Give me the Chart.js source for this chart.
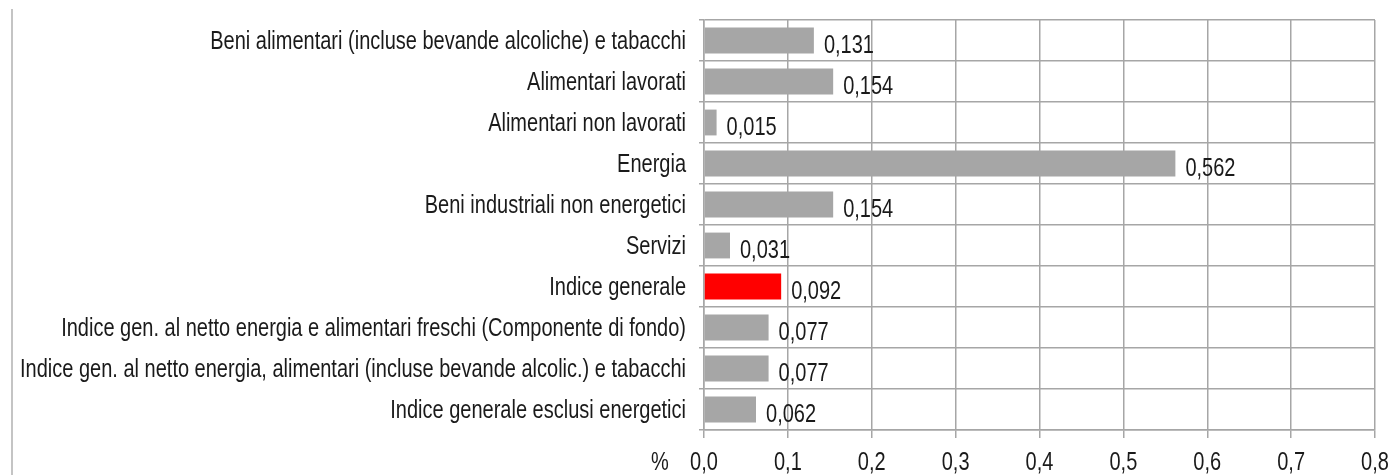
<!DOCTYPE html>
<html>
<head>
<meta charset="utf-8">
<script src="https://cdn.jsdelivr.net/npm/chart.js@4/dist/chart.umd.min.js"></script>
<style>
  body { margin: 0; background: #fff; }
  #wrap { position: relative; width: 1393px; height: 475px; }
</style>
</head>
<body>
<div id="wrap"><canvas id="chart" width="1393" height="475"></canvas></div>
<script>
var categories = [
    'Beni alimentari (incluse bevande alcoliche) e tabacchi',
    'Alimentari lavorati',
    'Alimentari non lavorati',
    'Energia',
    'Beni industriali non energetici',
    'Servizi',
    'Indice generale',
    'Indice gen. al netto energia e alimentari freschi (Componente di fondo)',
    'Indice gen. al netto energia, alimentari (incluse bevande alcolic.) e tabacchi',
    'Indice generale esclusi energetici'
];
var values = [0.131, 0.154, 0.015, 0.562, 0.154, 0.031, 0.092, 0.077, 0.077, 0.062];
var highlight = 'Indice generale';
var xTicks = [0, 0.1, 0.2, 0.3, 0.4, 0.5, 0.6, 0.7, 0.8];
var unitLabel = '%';

// the original text is tall and narrow, so draw it a bit stretched vertically
var fontFamily = '"Liberation Sans", Arial, sans-serif';
var fontSize = 20;
var stretchY = 1.32;
var textColor = '#1a1a1a';
var gridColor = '#a6a6a6';

function comma(v, d) {
    return v.toFixed(d).replace('.', ',');
}

function tallText(ctx, text, x, y, align) {
    ctx.save();
    ctx.translate(x, y);
    ctx.scale(1, stretchY);
    ctx.font = fontSize + 'px ' + fontFamily;
    ctx.fillStyle = textColor;
    ctx.textAlign = align;
    ctx.textBaseline = 'alphabetic';
    ctx.fillText(text, 0, 0);
    ctx.restore();
}

var barColors = categories.map(function(c) {
    return c === highlight ? '#ff0000' : '#a6a6a6';
});

var extras = {
    id: 'extras',
    beforeDraw: function(chart) {
        var ctx = chart.ctx;
        ctx.save();
        ctx.strokeStyle = '#c4c4c4';
        ctx.lineWidth = 2;
        ctx.beginPath();
        ctx.moveTo(12, 9);
        ctx.lineTo(12, chart.height);
        ctx.stroke();
        ctx.restore();
    },
    afterDraw: function(chart) {
        var ctx = chart.ctx;
        var xs = chart.scales.x;
        var ys = chart.scales.y;

        // category labels
        categories.forEach(function(c, i) {
            tallText(ctx, c, ys.right - 18, ys.getPixelForTick(i) + 8, 'right');
        });

        // value labels
        var meta = chart.getDatasetMeta(0);
        meta.data.forEach(function(bar, i) {
            tallText(ctx, comma(values[i], 3), bar.x + 10, bar.y + 12, 'left');
        });

        // x tick labels and unit
        xTicks.forEach(function(v) {
            tallText(ctx, comma(v, 1), xs.getPixelForValue(v), xs.top + 40, 'center');
        });
        tallText(ctx, unitLabel, xs.getPixelForValue(0) - 44, xs.top + 40, 'center');
    }
};

var ctx = document.getElementById('chart');
new Chart(ctx, {
    type: 'bar',
    data: {
        labels: categories,
        datasets: [{
            data: values,
            backgroundColor: barColors,
            barPercentage: 0.63,
            categoryPercentage: 1.0
        }]
    },
    options: {
        indexAxis: 'y',
        responsive: false,
        maintainAspectRatio: false,
        animation: false,
        devicePixelRatio: 1,
        layout: { padding: { top: 20, right: 18, left: 0, bottom: 0 } },
        plugins: {
            legend: { display: false },
            tooltip: { enabled: false }
        },
        scales: {
            x: {
                min: 0,
                max: 0.8,
                afterBuildTicks: function(scale) {
                    scale.ticks = xTicks.map(function(v) { return { value: v }; });
                },
                afterFit: function(scale) { scale.height = 45; },
                grid: { color: gridColor, lineWidth: 1.5, tickLength: 8 },
                border: { color: gridColor, width: 1.5 },
                ticks: { display: false }
            },
            y: {
                afterFit: function(scale) { scale.width = 704; },
                grid: { color: gridColor, lineWidth: 1.5, tickLength: 5 },
                border: { color: gridColor, width: 1.5 },
                ticks: { display: false, autoSkip: false }
            }
        }
    },
    plugins: [extras]
});
</script>
</body>
</html>
